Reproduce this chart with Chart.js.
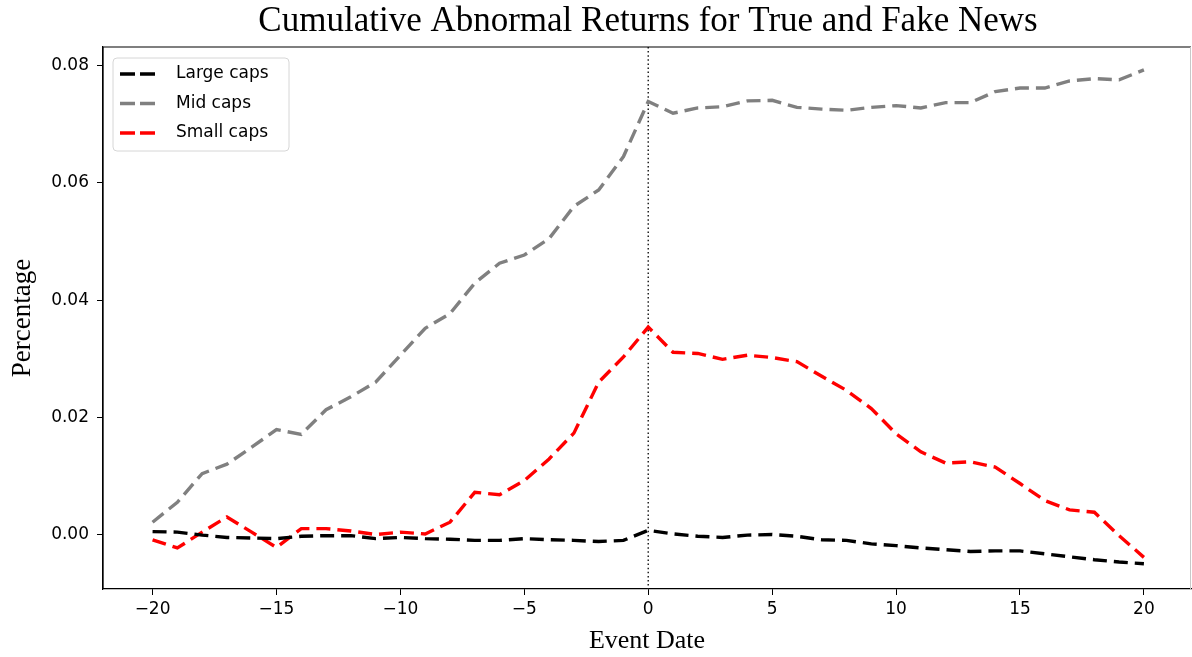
<!DOCTYPE html>
<html>
<head>
<meta charset="utf-8">
<script src="https://cdn.jsdelivr.net/npm/chart.js@4.4.1/dist/chart.umd.min.js"></script>
<style>
  html, body { margin: 0; padding: 0; background: #fff; }
  #wrap { width: 1192px; height: 657px; }
</style>
</head>
<body>
<div id="wrap"><canvas id="car" width="1192" height="657"></canvas></div>
<script>
// values
const eventDates = [-20, -19, -18, -17, -16, -15, -14, -13, -12, -11, -10, -9, -8, -7, -6, -5, -4, -3, -2, -1,
  0, 1, 2, 3, 4, 5, 6, 7, 8, 9, 10, 11, 12, 13, 14, 15, 16, 17, 18, 19, 20];

const largeCaps = [0.0005, 0.0004, -0.0001, -0.0005, -0.0006, -0.0007, -0.0003, -0.0002, -0.0002, -0.0007,
  -0.0005, -0.0007, -0.0008, -0.0010, -0.0010, -0.0007, -0.0009, -0.0010, -0.0012, -0.0010,
  0.0007, 0.0001, -0.0003, -0.0005, -0.0001, 0.0000, -0.0003, -0.0009, -0.0010, -0.0016,
  -0.0019, -0.0023, -0.0026, -0.0029, -0.0028, -0.0028, -0.0033, -0.0038, -0.0043, -0.0047, -0.0050];

const midCaps = [0.0021, 0.0055, 0.0104, 0.0120, 0.0149, 0.0179, 0.0171, 0.0213, 0.0235, 0.0260,
  0.0306, 0.0352, 0.0377, 0.0429, 0.0463, 0.0477, 0.0505, 0.0560, 0.0588, 0.0645,
  0.0739, 0.0719, 0.0728, 0.0730, 0.0740, 0.0741, 0.0729, 0.0726, 0.0724, 0.0729,
  0.0732, 0.0728, 0.0737, 0.0737, 0.0756, 0.0762, 0.0762, 0.0774, 0.0778, 0.0776, 0.0793];

const smallCaps = [-0.0009, -0.0023, 0.0004, 0.0030, 0.0004, -0.0022, 0.0010, 0.0010, 0.0006, 0.0000,
  0.0004, 0.0001, 0.0021, 0.0072, 0.0068, 0.0092, 0.0129, 0.0173, 0.0260, 0.0303,
  0.0354, 0.0311, 0.0309, 0.0299, 0.0306, 0.0302, 0.0295, 0.0270, 0.0246, 0.0215,
  0.0172, 0.0141, 0.0122, 0.0124, 0.0115, 0.0087, 0.0058, 0.0042, 0.0038, -0.0002, -0.0039];

const xTicks = [-20, -15, -10, -5, 0, 5, 10, 15, 20];
const yTicks = [0.00, 0.02, 0.04, 0.06, 0.08];
const eventDay = 0;
const chartTitle = 'Cumulative Abnormal Returns for True and Fake News';

const serif = "'Liberation Serif', 'DejaVu Serif', serif";
const sans = "'DejaVu Sans', sans-serif";
const dash = [14, 7];

const toPoints = (vals) => vals.map((v, i) => ({ x: eventDates[i], y: v }));

// title centred over the plot, full box around the plot, dotted event line
const frameAndEvent = {
  id: 'frameAndEvent',
  beforeDatasetsDraw(chart) {
    const { ctx, chartArea: a, scales } = chart;
    const x0 = scales.x.getPixelForValue(eventDay);
    ctx.save();
    ctx.strokeStyle = '#222';
    ctx.lineWidth = 1.5;
    ctx.setLineDash([1.5, 2.6]);
    ctx.beginPath();
    ctx.moveTo(x0, a.top);
    ctx.lineTo(x0, a.bottom);
    ctx.stroke();
    ctx.restore();
  },
  afterDraw(chart) {
    const { ctx, chartArea: a } = chart;
    ctx.save();
    ctx.strokeStyle = '#000';
    ctx.lineWidth = 1.2;
    ctx.beginPath();
    ctx.moveTo(a.left, a.bottom);
    ctx.lineTo(a.left, a.top);
    ctx.lineTo(a.right, a.top);
    ctx.stroke();
    ctx.strokeStyle = '#c8c8c8';
    ctx.lineWidth = 1;
    ctx.beginPath();
    ctx.moveTo(a.right - 0.5, a.top);
    ctx.lineTo(a.right - 0.5, a.bottom);
    ctx.stroke();

    ctx.fillStyle = '#000';
    ctx.font = '35px ' + serif;
    ctx.textAlign = 'center';
    ctx.textBaseline = 'middle';
    ctx.fillText(chartTitle, (a.left + a.right) / 2 + 1, 22);
    ctx.restore();
  }
};

// matplotlib-like legend inside the upper left corner
const innerLegend = {
  id: 'innerLegend',
  afterDatasetsDraw(chart) {
    const { ctx, chartArea: a } = chart;
    const x = a.left + 10, y = a.top + 11, w = 176, h = 93;
    ctx.save();
    ctx.beginPath();
    ctx.roundRect(x, y, w, h, 4);
    ctx.fillStyle = 'rgba(255,255,255,0.8)';
    ctx.fill();
    ctx.strokeStyle = '#d6d6d6';
    ctx.lineWidth = 1;
    ctx.stroke();
    ctx.font = '17px ' + sans;
    ctx.textBaseline = 'middle';
    chart.data.datasets.forEach((ds, i) => {
      const ry = y + 16 + i * 29.5;
      ctx.strokeStyle = ds.borderColor;
      ctx.lineWidth = 3.4;
      ctx.setLineDash([15, 5]);
      ctx.beginPath();
      ctx.moveTo(x + 7, ry);
      ctx.lineTo(x + 44, ry);
      ctx.stroke();
      ctx.setLineDash([]);
      ctx.fillStyle = '#000';
      ctx.fillText(ds.label, x + 63, ry);
    });
    ctx.restore();
  }
};

new Chart(document.getElementById('car'), {
  type: 'line',
  data: {
    datasets: [
      { label: 'Large caps', data: toPoints(largeCaps), borderColor: '#000000' },
      { label: 'Mid caps', data: toPoints(midCaps), borderColor: '#808080' },
      { label: 'Small caps', data: toPoints(smallCaps), borderColor: '#ff0000' }
    ]
  },
  options: {
    responsive: false,
    animation: false,
    layout: { padding: { left: 0, right: 1, top: 47, bottom: 0 } },
    elements: {
      line: { borderWidth: 3.4, borderDash: dash, tension: 0, fill: false },
      point: { radius: 0 }
    },
    plugins: {
      legend: { display: false },
      tooltip: { enabled: false },
      title: { display: false }
    },
    scales: {
      x: {
        type: 'linear',
        min: -22,
        max: 21.9,
        afterBuildTicks: (s) => { s.ticks = xTicks.map(v => ({ value: v })); },
        afterFit: (s) => { s.height = 68; },
        ticks: {
          color: '#000',
          font: { family: sans, size: 17 },
          padding: 4,
          maxRotation: 0,
          callback: (v) => String(v).replace('-', '\u2212')
        },
        grid: { drawOnChartArea: false, drawTicks: true, tickLength: 6, color: '#000' },
        border: { display: true, color: '#000', width: 1.2 },
        title: {
          display: true,
          text: 'Event Date',
          color: '#000',
          font: { family: serif, size: 26 },
          padding: { top: 1, bottom: 0 }
        }
      },
      y: {
        min: -0.0093,
        max: 0.0832,
        afterBuildTicks: (s) => { s.ticks = yTicks.map(v => ({ value: v })); },
        afterFit: (s) => { s.width = 103; },
        ticks: {
          color: '#000',
          font: { family: sans, size: 17 },
          padding: 8,
          callback: (v) => v.toFixed(2)
        },
        grid: { drawOnChartArea: false, drawTicks: true, tickLength: 6, color: '#000' },
        border: { display: true, color: '#000', width: 1.2 },
        title: {
          display: true,
          text: 'Percentage',
          color: '#000',
          font: { family: serif, size: 27 },
          padding: { top: 7, bottom: 0 }
        }
      }
    }
  },
  plugins: [frameAndEvent, innerLegend]
});
</script>
</body>
</html>
